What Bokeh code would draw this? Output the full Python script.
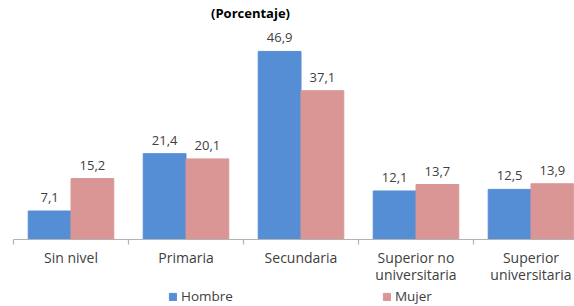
from bokeh.plotting import figure
from bokeh.models import ColumnDataSource, Range1d, Legend, LegendItem
from bokeh.core.properties import value
from bokeh.transform import dodge
from bokeh.embed import file_html
from bokeh.resources import INLINE

categories = ["Sin nivel", "Primaria", "Secundaria", "Superior no\nuniversitaria", "Superior\nuniversitaria"]
hombre = [7.1, 21.4, 46.9, 12.1, 12.5]
mujer = [15.2, 20.1, 37.1, 13.7, 13.9]
series_names = ["Hombre", "Mujer"]
title_text = "(Porcentaje)"

BLUE = "#558ED5"
PINK = "#D99694"
TXT = "#404040"
FONT = "Open Sans"

W, H = 574, 306
PX_PER_CAT = 115.0
X0 = 13.0
BASE = 239.0
PX_PER_UNIT = 4.01

x_start = -X0 / PX_PER_CAT
x_end = (W - X0) / PX_PER_CAT
y_end = BASE / PX_PER_UNIT
y_start = -(H - BASE) / PX_PER_UNIT

xs = [i + 0.5 for i in range(len(categories))]
fmt = lambda v: f"{v:.1f}".replace(".", ",")
src = ColumnDataSource(dict(
    x=xs, cat=categories, hombre=hombre, mujer=mujer,
    hl=[fmt(v) for v in hombre], ml=[fmt(v) for v in mujer],
))

p = figure(width=W, height=H, x_range=Range1d(x_start, x_end),
           y_range=Range1d(y_start, y_end), output_backend="svg",
           toolbar_location=None, min_border=0,
           x_axis_type=None, y_axis_type=None)
p.grid.visible = False
p.outline_line_color = None

bw = 0.372
r1 = p.vbar(x=dodge("x", -bw / 2, range=p.x_range), width=bw, top="hombre", bottom=0,
            source=src, fill_color=BLUE, line_color=BLUE)
r2 = p.vbar(x=dodge("x", bw / 2, range=p.x_range), width=bw, top="mujer", bottom=0,
            source=src, fill_color=PINK, line_color=PINK)

# baseline and category separators
n = len(categories)
p.segment(x0=[0], y0=[0], x1=[n], y1=[0], line_color="#B3B3B3", line_width=1.2)
tick_len = 5 / PX_PER_UNIT
p.segment(x0=list(range(n + 1)), y0=[0] * (n + 1), x1=list(range(n + 1)),
          y1=[-tick_len] * (n + 1), line_color="#B3B3B3", line_width=1.2)

# value labels
p.text(x=dodge("x", -bw / 2, range=p.x_range), y="hombre", text="hl", source=src,
       text_align="center", text_baseline="bottom", y_offset=-9,
       text_font=value(FONT), text_font_size="13px", text_color=TXT)
p.text(x=dodge("x", bw / 2, range=p.x_range), y="mujer", text="ml", source=src,
       text_align="center", text_baseline="bottom", y_offset=-9,
       text_font=value(FONT), text_font_size="13px", text_color=TXT)

# category labels
p.text(x="x", y=-8 / PX_PER_UNIT, text="cat", source=src,
       text_align="center", text_baseline="top", text_line_height=0.9,
       text_font=value(FONT), text_font_size="14px", text_color=TXT)

# title
p.text(x=[(250 - X0) / PX_PER_CAT], y=[y_end - 3 / PX_PER_UNIT], text=[title_text],
       text_align="center", text_baseline="top",
       text_font=value(FONT), text_font_size="13px", text_font_style="bold",
       text_color="#000000")

legend = Legend(items=[LegendItem(label=series_names[0], renderers=[r1]),
                       LegendItem(label=series_names[1], renderers=[r2])],
                orientation="horizontal", location=(168, 0), spacing=149,
                glyph_width=9, glyph_height=9, label_standoff=4,
                padding=0, margin=0, border_line_color=None,
                background_fill_alpha=0, label_text_font=FONT,
                label_text_font_size="13.5px", label_text_color=TXT,
                label_height=20)
p.add_layout(legend)

open("out.html", "w").write(file_html(p, INLINE))
